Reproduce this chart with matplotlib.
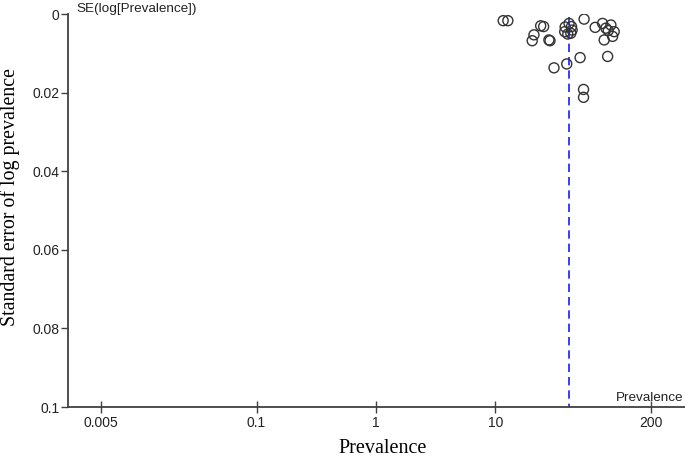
import numpy as np
import matplotlib.pyplot as plt

# study estimates
prevalence = [11.6, 12.7, 23.9, 25.3, 21.0, 20.3, 28.0, 28.6,
              41.3, 43.3, 38.0, 42.7, 40.3, 38.3, 43.8,
              55.2, 68.3, 78.8, 84.0, 92.5, 98.6, 95.6, 81.3, 87.9,
              30.9, 39.5, 51.1, 86.9, 54.6, 54.6]
se_log = [0.0017, 0.0017, 0.0030, 0.0032, 0.0053, 0.0068, 0.0066, 0.0068,
          0.0024, 0.0032, 0.0045, 0.0049, 0.0051, 0.0033, 0.0041,
          0.0013, 0.0034, 0.0024, 0.0036, 0.0028, 0.0045, 0.0057, 0.0066, 0.0042,
          0.0137, 0.0127, 0.0111, 0.0108, 0.0192, 0.0212]
pooled = 41.0

xticks = [0.005, 0.1, 1, 10, 200]
xtick_labels = ['0.005', '0.1', '1', '10', '200']
yticks = [0, 0.02, 0.04, 0.06, 0.08, 0.1]
ytick_labels = ['0', '0.02', '0.04', '0.06', '0.08', '0.1']

sans = 'Liberation Sans'
serif = 'Liberation Serif'
axcol = '#404040'

fig = plt.figure(figsize=(6.85, 4.58), dpi=100)
ax = fig.add_axes([68/685, 1 - 407/458, 1 - 68/685, (407 - 14)/458])

ax.scatter(prevalence, se_log, s=52, facecolors='none', edgecolors='#333333',
           linewidths=1.0, zorder=3)
ax.plot([pooled, pooled], [0.0008, 0.1], color='#1a1aff', lw=1.2,
        dashes=(5, 3), zorder=2)

ax.set_xscale('log')
ax.set_xlim(0.00264, 386)
ax.set_ylim(0.1, 0)
ax.set_xticks(xticks)
ax.set_xticklabels(xtick_labels)
ax.xaxis.set_minor_locator(plt.NullLocator())
ax.set_yticks(yticks)
ax.set_yticklabels(ytick_labels)

for side in ['top', 'right']:
    ax.spines[side].set_visible(False)
for side in ['left', 'bottom']:
    ax.spines[side].set_color(axcol)
    ax.spines[side].set_linewidth(1.3)

ax.tick_params(axis='x', direction='inout', length=9, width=1, color=axcol,
               labelsize=10, labelcolor='#222222', pad=2)
ax.tick_params(axis='y', direction='out', length=5, width=1, color=axcol,
               labelsize=10, labelcolor='#222222', pad=1)
for lbl in ax.get_xticklabels() + ax.get_yticklabels():
    lbl.set_family(sans)

# axis titles placed in figure pixels so they sit where the reference has them
fig.text(383/685, 1 - 453/458, 'Prevalence', fontsize=14.5, family=serif,
         ha='center', va='baseline')
fig.text(10/685, 1 - 197/458, 'Standard error of log prevalence', fontsize=14.3,
         family=serif, rotation=90, ha='center', va='center')

fig.text(76/685, 1 - 9/458, 'SE(log[Prevalence])', fontsize=9.7,
         family=sans, color='#222222', ha='left', va='center')
fig.text(683/685, 1 - 398/458, 'Prevalence', fontsize=9.7,
         family=sans, color='#222222', ha='right', va='center')

fig.savefig('out.png', dpi=100)
